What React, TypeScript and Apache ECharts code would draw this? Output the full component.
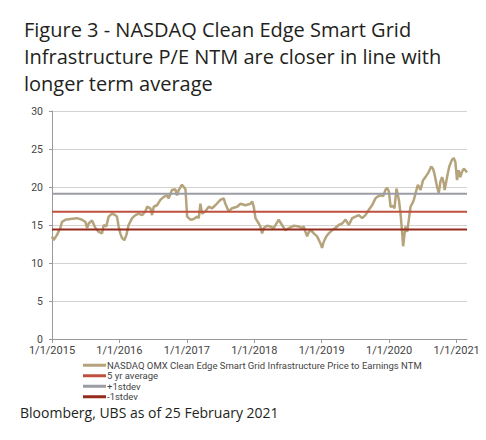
import React, { useEffect, useRef } from "react";
import * as echarts from "echarts";

const dates: string[] = [
  "2015-01-01","2015-01-10","2015-01-28","2015-02-15","2015-02-24","2015-03-14","2015-04-10","2015-05-16","2015-06-13","2015-07-01",
  "2015-07-10","2015-07-19","2015-08-06","2015-08-24","2015-09-11","2015-09-29","2015-10-08","2015-10-22","2015-11-04","2015-11-22",
  "2015-12-10","2015-12-19","2015-12-28","2016-01-06","2016-01-15","2016-01-28","2016-02-08","2016-02-20","2016-03-10","2016-03-28",
  "2016-04-15","2016-05-03","2016-05-21","2016-05-30","2016-06-17","2016-06-26","2016-07-05","2016-07-23","2016-08-10","2016-08-28",
  "2016-09-15","2016-09-24","2016-10-12","2016-10-30","2016-11-08","2016-11-17","2016-12-05","2016-12-15","2016-12-24","2017-01-02",
  "2017-01-20","2017-02-07","2017-02-25","2017-03-06","2017-03-15","2017-03-24","2017-04-11","2017-04-29","2017-05-17","2017-06-04",
  "2017-07-01","2017-07-19","2017-07-28","2017-08-15","2017-09-02","2017-09-30","2017-10-18","2017-11-14","2017-12-11","2017-12-20",
  "2017-12-29","2018-01-07","2018-01-25","2018-02-03","2018-02-12","2018-02-21","2018-03-11","2018-03-29","2018-04-16","2018-05-13",
  "2018-05-31","2018-06-18","2018-07-07","2018-08-03","2018-08-30","2018-09-17","2018-09-26","2018-10-05","2018-10-14","2018-10-23",
  "2018-11-05","2018-11-19","2018-12-07","2018-12-25","2019-01-03","2019-01-12","2019-01-26","2019-02-08","2019-02-26","2019-03-16",
  "2019-04-03","2019-04-22","2019-05-10","2019-05-28","2019-06-15","2019-07-03","2019-07-21","2019-08-08","2019-08-26","2019-09-13",
  "2019-10-01","2019-10-19","2019-10-28","2019-11-15","2019-11-30","2019-12-12","2019-12-21","2019-12-31","2020-01-09","2020-01-23",
  "2020-01-30","2020-02-10","2020-02-23","2020-03-03","2020-03-12","2020-03-17","2020-03-25","2020-03-30","2020-04-08","2020-04-17",
  "2020-04-26","2020-05-05","2020-05-14","2020-05-28","2020-06-05","2020-06-19","2020-07-03","2020-07-16","2020-08-03","2020-08-16",
  "2020-08-26","2020-09-02","2020-09-17","2020-09-26","2020-10-05","2020-10-14","2020-10-23","2020-10-28","2020-11-10","2020-11-22",
  "2020-12-07","2020-12-16","2020-12-25","2021-01-03","2021-01-12","2021-01-21","2021-01-30","2021-02-08","2021-02-17","2021-02-26",
];

const peNtm: number[] = [
  13.5,13.0,13.7,14.6,15.4,15.7,15.8,15.9,15.7,15.4,
  14.6,15.2,15.6,14.6,14.1,13.9,15.0,14.8,16.1,16.5,
  16.3,16.1,14.8,13.9,13.3,13.0,13.7,15.0,15.9,16.3,
  16.5,16.3,16.8,17.4,17.2,16.3,17.4,17.6,18.3,18.7,
  18.9,18.5,19.6,19.7,18.9,19.6,20.3,20.0,19.7,16.1,
  15.7,15.8,16.1,15.9,17.8,16.5,16.8,17.4,17.2,17.6,
  18.3,18.5,17.8,16.8,17.2,17.4,17.8,17.6,17.8,18.1,
  17.4,15.9,15.2,14.8,13.9,14.6,14.9,14.8,14.6,15.7,
  15.0,14.3,14.6,14.9,14.8,14.6,14.8,14.1,13.5,14.1,
  14.3,13.9,13.5,12.6,12.0,12.8,13.5,13.9,14.3,14.6,
  15.0,15.2,15.7,15.0,15.9,16.1,16.3,15.9,16.3,17.0,
  17.6,18.5,18.7,18.9,18.8,19.6,19.9,19.4,17.4,17.5,
  17.2,19.8,18.3,16.5,13.9,12.2,13.9,14.8,14.1,15.7,
  17.4,17.8,18.3,19.6,20.3,19.6,20.9,21.3,22.0,22.7,
  22.4,21.8,20.0,19.2,20.7,21.3,20.5,19.6,21.3,22.7,
  23.6,23.8,23.3,20.9,22.2,21.3,22.0,22.4,22.2,21.9,
];

const startDate = "2015-01-01";
const endDate = "2021-02-26";
const avg5yr = 16.75;
const plus1sd = 19.1;
const minus1sd = 14.4;

const seriesNames = [
  "NASDAQ OMX Clean Edge Smart Grid Infrastructure Price to Earnings NTM",
  "5 yr average",
  "+1stdev",
  "-1stdev",
];

const titleText =
  "Figure 3 - NASDAQ Clean Edge Smart Grid\nInfrastructure P/E NTM are closer in line with\nlonger term average";
const sourceText = "Bloomberg, UBS as of 25 February 2021";

const FONT = "'Open Sans', 'Noto Sans', sans-serif";
const SMALL_FONT = "Roboto, 'Open Sans', sans-serif";

export default function App() {
  const ref = useRef<HTMLDivElement>(null);
  useEffect(() => {
    if (!ref.current) return;
    const chart = echarts.init(ref.current, undefined, { renderer: "svg" });
    const flat = (v: number) => [
      [startDate, v],
      [endDate, v],
    ];
    chart.setOption({
      animation: false,
      backgroundColor: "#ffffff",
      textStyle: { fontFamily: FONT },
      title: {
        text: titleText,
        left: 19,
        top: 11,
        textStyle: {
          fontFamily: FONT,
          fontSize: 20,
          fontWeight: "normal",
          color: "#231f20",
          lineHeight: 27,
        },
      },
      graphic: [
        {
          type: "text",
          left: 20,
          top: 405,
          style: {
            text: sourceText,
            font: `14px ${FONT}`,
            fill: "#231f20",
          },
        },
      ],
      legend: {
        orient: "vertical",
        left: 83,
        top: 360,
        itemWidth: 23,
        itemHeight: 3,
        itemGap: 0,
        icon: "rect",
        padding: 0,
        textStyle: {
          fontFamily: SMALL_FONT,
          fontSize: 9.5,
          color: "#444",
          lineHeight: 10.5,
          height: 10.5,
          padding: [0, 0, 0, -4],
        },
        data: seriesNames,
      },
      grid: { left: 52, right: 19, top: 111, bottom: 101, containLabel: false },
      xAxis: {
        type: "time",
        min: startDate,
        max: endDate,
        splitNumber: 6,
        axisLine: { lineStyle: { color: "#999", width: 1 } },
        axisTick: { show: true, length: 4, lineStyle: { color: "#999" } },
        splitLine: { show: false },
        axisLabel: {
          color: "#444",
          fontSize: 11,
          fontFamily: SMALL_FONT,
          margin: 6,
          showMinLabel: true,
          formatter: (val: number) => {
            const d = new Date(val);
            return `${d.getMonth() + 1}/${d.getDate()}/${d.getFullYear()}`;
          },
        },
      },
      yAxis: {
        type: "value",
        min: 0,
        max: 30,
        interval: 5,
        axisLine: { show: true, lineStyle: { color: "#999", width: 1 } },
        axisTick: { show: true, length: 3, lineStyle: { color: "#999" } },
        splitLine: { show: true, lineStyle: { color: "#d3d3d3", width: 1 } },
        axisLabel: {
          color: "#444",
          fontSize: 10.5,
          fontFamily: SMALL_FONT,
          margin: 9,
        },
      },
      series: [
        {
          name: seriesNames[0],
          type: "line",
          data: dates.map((d, i) => [d, peNtm[i]]),
          showSymbol: false,
          symbol: "none",
          lineStyle: { color: "#b5a37c", width: 2.5 },
          itemStyle: { color: "#b5a37c" },
          z: 2,
        },
        {
          name: seriesNames[1],
          type: "line",
          data: flat(avg5yr),
          symbol: "none",
          lineStyle: { color: "#c0503e", width: 2 },
          itemStyle: { color: "#c0503e" },
          z: 3,
        },
        {
          name: seriesNames[2],
          type: "line",
          data: flat(plus1sd),
          symbol: "none",
          lineStyle: { color: "#9a9ca6", width: 2 },
          itemStyle: { color: "#9a9ca6" },
          z: 3,
        },
        {
          name: seriesNames[3],
          type: "line",
          data: flat(minus1sd),
          symbol: "none",
          lineStyle: { color: "#962a1c", width: 2 },
          itemStyle: { color: "#962a1c" },
          z: 3,
        },
      ],
    });
    return () => chart.dispose();
  }, []);
  return (
    <div
      ref={ref}
      style={{ position: "fixed", left: 0, top: 0, width: 486, height: 440 }}
    />
  );
}
